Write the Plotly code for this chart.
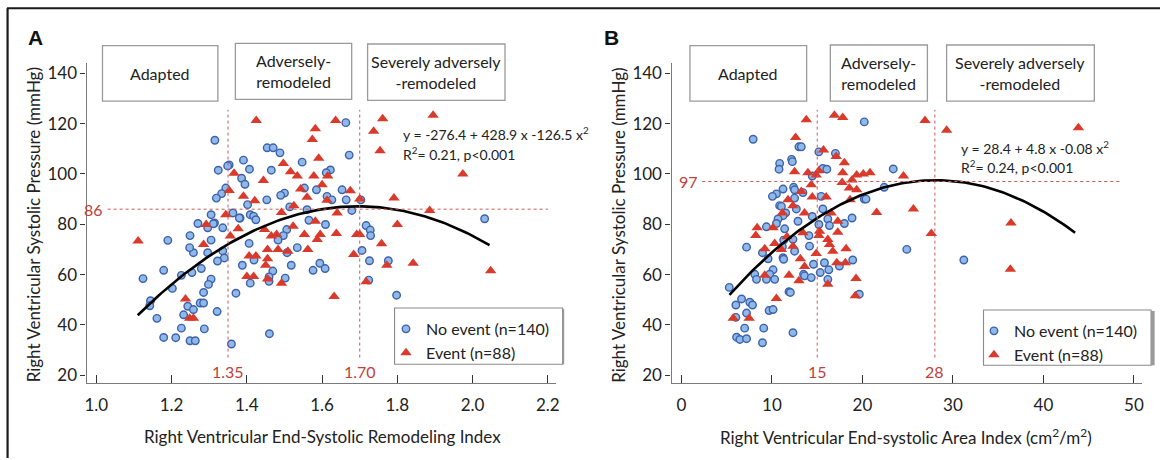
import numpy as np
import plotly.graph_objects as go

# ---------------- Panel A data (RV end-systolic remodeling index vs RVSP) ----------------
a_none_x = [1.190, 1.124, 1.179, 1.202, 1.144, 1.142, 1.161, 1.179, 1.211, 1.249, 1.263, 1.226,
            1.232, 1.243, 1.258, 1.276, 1.249, 1.258, 1.254, 1.226, 1.248, 1.270, 1.279,
            1.315, 1.663, 1.454, 1.470, 1.488, 1.672, 1.391, 1.353, 1.547, 1.324, 1.407, 1.465,
            1.622, 1.611, 1.386, 1.344, 1.333, 1.319, 1.500, 1.490, 1.553, 1.585, 1.653, 1.453,
            1.613, 1.626, 1.664, 1.703, 1.402, 1.514, 1.560, 1.679, 1.363, 1.382, 1.409, 1.418,
            1.424, 1.305, 1.314, 1.336, 1.296, 1.565, 1.609, 1.717, 1.728, 1.729, 1.506, 1.497,
            1.483, 1.406, 1.305, 1.534, 1.507, 1.336, 1.340, 1.296, 1.322, 1.419, 1.706, 1.726,
            1.776, 1.388, 1.518, 1.594, 1.608, 1.576, 1.469, 1.459, 1.502, 1.305, 1.298, 1.409,
            1.459, 1.724, 1.285, 1.285, 1.371, 1.798, 1.321, 1.287, 1.460, 1.359, 2.032,
            1.395, 1.349, 1.311, 1.380]
a_none_y = [73.6, 58.4, 61.7, 54.5, 49.6, 47.6, 42.6, 35.0, 34.9, 33.7, 33.7, 38.7,
            44.0, 47.4, 46.1, 48.7, 75.5, 68.7, 60.8, 59.7, 70.7, 80.3, 62.4,
            113.4, 120.4, 110.4, 110.4, 108.4, 107.5, 105.5, 103.6, 104.7, 101.5, 101.9, 101.5,
            101.6, 100.5, 98.3, 94.4, 92.2, 90.4, 92.4, 91.5, 94.4, 93.7, 93.7, 89.7,
            91.1, 89.7, 89.7, 89.7, 87.8, 86.9, 85.8, 85.5, 84.5, 82.5, 83.8, 83.2,
            81.8, 83.8, 80.5, 78.6, 78.6, 81.6, 79.9, 79.5, 77.7, 75.5, 77.9, 75.5,
            73.7, 72.4, 73.7, 70.7, 68.7, 69.4, 66.6, 68.7, 65.4, 65.8, 69.6, 65.5,
            65.5, 63.7, 63.7, 64.5, 62.4, 61.7, 61.4, 59.1, 58.6, 58.2, 56.1, 56.6,
            57.3, 57.8, 52.9, 48.7, 52.6, 51.8, 45.3, 38.4, 36.5, 32.4, 82.2,
            95.9, 103.2, 80.2, 82.5]
a_event_x = [1.111, 1.237, 1.248, 1.258,
             1.425, 1.636, 1.761, 1.737, 1.582, 1.574, 1.754, 1.591, 1.497, 1.366, 1.516, 1.534,
             1.444, 1.578, 1.615, 1.600, 1.353, 1.543, 1.675, 1.391, 1.421, 1.560, 1.613, 1.700,
             1.791, 1.525, 1.492, 1.344, 1.640, 1.292, 1.582, 1.800, 1.377, 1.447, 1.523, 1.356,
             1.465, 1.479, 1.553, 1.595, 1.587, 1.638, 1.692, 1.700, 1.285, 1.455, 1.483, 1.509,
             1.562, 1.758, 1.406, 1.424, 1.455, 1.684, 1.450, 1.772, 1.400, 1.418, 1.455, 1.492,
             1.717, 1.632,
             1.895, 1.974, 1.886, 2.048, 1.842]
a_event_y = [73.3, 50.3, 42.6, 42.6,
             121.3, 121.3, 122.0, 117.0, 118.0, 113.7, 109.2, 106.2, 104.2, 100.3, 100.9, 99.2,
             97.4, 99.2, 99.2, 95.7, 93.4, 94.0, 93.3, 91.1, 89.4, 90.7, 89.5, 90.0,
             90.4, 87.4, 84.7, 83.8, 84.5, 79.9, 81.2, 79.9, 78.2, 77.9, 79.2, 75.3,
             75.3, 75.9, 75.9, 75.9, 73.9, 76.3, 75.9, 75.9, 72.0, 70.0, 70.0, 69.3,
             70.0, 72.3, 67.4, 67.4, 66.3, 68.0, 63.7, 63.7, 59.2, 59.2, 58.2, 56.6,
             57.1, 51.3,
             123.3, 100.0, 85.5, 61.5, 64.5]

# ---------------- Panel B data (RV end-systolic area index vs RVSP) ----------------
b_none_x = [7.92, 20.20, 12.98, 13.24, 15.18, 17.01, 10.85, 10.78, 12.17, 12.25, 15.62, 16.06,
            23.40, 14.45, 11.22, 10.49, 10.05, 12.39, 12.50, 13.42, 12.50, 15.44, 10.85, 11.04,
            11.51, 11.22, 12.69, 15.62, 10.67, 10.49, 9.39, 11.40, 12.87, 14.45, 16.17, 15.18,
            16.35, 18.00, 18.85, 20.20, 20.39, 22.40, 7.19, 8.95, 11.29, 12.32, 11.15, 14.08,
            14.15, 11.22, 11.29, 9.57, 12.50, 14.59, 15.80, 17.45, 18.92, 16.28, 15.33, 13.49,
            13.60, 14.34, 10.12, 9.75, 9.39, 8.10, 8.29, 10.30, 16.17, 11.88, 12.03, 5.28,
            6.64, 6.01, 7.55, 7.85, 7.19, 9.68, 10.12, 19.65, 6.01, 6.98, 9.09, 12.32,
            6.09, 6.45, 7.19, 8.95, 24.90, 31.20]
b_none_y = [113.8, 120.7, 110.8, 110.8, 108.8, 108.2, 104.2, 101.9, 105.8, 104.9, 102.2, 101.9,
            102.0, 99.2, 94.0, 92.1, 91.1, 94.7, 93.7, 92.6, 90.4, 91.1, 87.4, 87.1,
            84.5, 83.4, 86.1, 86.1, 82.1, 80.3, 79.0, 78.2, 81.2, 83.1, 82.1, 79.9,
            79.5, 80.3, 82.5, 90.0, 90.0, 94.7, 70.9, 68.7, 73.7, 74.0, 71.1, 75.5,
            71.3, 66.7, 66.1, 66.3, 69.3, 64.1, 64.7, 63.4, 65.8, 61.9, 60.8, 60.1,
            59.5, 58.8, 61.9, 60.1, 58.1, 60.1, 58.1, 58.1, 58.1, 53.2, 52.9, 54.9,
            50.3, 47.9, 49.0, 47.9, 44.7, 45.7, 46.1, 52.2, 43.0, 38.7, 38.7, 36.9,
            35.1, 34.2, 34.5, 32.9, 70.0, 65.8]
b_event_x = [13.79, 16.90, 17.82, 12.61, 15.69, 17.09, 18.00, 12.50, 13.97, 15.18, 14.89, 17.82,
             19.36, 20.09, 20.83, 17.75, 14.34, 18.85, 18.55, 19.36, 13.24, 11.77, 14.45, 15.99,
             18.63, 12.32, 13.60, 11.15, 16.54, 21.56, 8.36, 8.21, 10.12, 13.42, 11.66, 17.27,
             17.27, 15.25, 15.18, 16.17, 16.35, 9.20, 10.30, 12.32, 11.04, 16.72, 18.19, 14.89,
             13.13, 17.16, 18.11, 13.60, 9.20, 11.88, 12.98, 16.17, 19.29, 19.21, 10.49, 5.72,
             7.48, 26.91, 29.30, 43.86, 24.53, 25.63, 27.61, 36.41, 36.34]
b_event_y = [121.6, 123.3, 122.4, 114.5, 109.5, 106.9, 104.5, 100.9, 100.5, 101.3, 99.6, 100.5,
             99.6, 100.0, 100.5, 96.6, 95.7, 97.6, 94.4, 93.7, 93.0, 89.7, 90.8, 90.8,
             89.7, 87.4, 84.5, 84.5, 84.5, 84.7, 78.6, 75.5, 78.6, 76.6, 75.0, 81.2,
             76.8, 77.2, 75.5, 73.9, 72.0, 70.3, 72.4, 71.3, 70.0, 69.3, 70.3, 68.4,
             66.3, 64.7, 64.7, 63.2, 59.7, 59.7, 57.5, 56.2, 58.4, 51.6, 50.5, 42.6,
             42.6, 121.3, 117.4, 118.4, 99.2, 86.1, 76.3, 80.5, 62.1]

# quadratic fits (c0, c1, c2) and the x-span they are drawn over
fit_a = [-276.4, 428.9, -126.5]
fit_a_span = [1.11, 2.045]
fit_b = [28.3, 4.93, -0.0878]
fit_b_span = [5.3, 43.5]

# cut-offs
cut_a = [1.35, 1.70]
cut_a_labels = ["1.35", "1.70"]
peak_a = 86
cut_b = [15, 28]
cut_b_labels = ["15", "28"]
peak_b = 97

eq_a = ["y = -276.4 + 428.9 x -126.5 x<sup>2</sup>", "R<sup>2</sup>= 0.21, p<0.001"]
eq_b = ["y = 28.4 + 4.8 x -0.08 x<sup>2</sup>", "R<sup>2</sup>= 0.24, p<0.001"]
groups = ["Adapted", "Adversely-<br>remodeled", "Severely adversely<br>-remodeled"]
legend_names = ["No event (n=140)", "Event (n=88)"]

# ---------------- styling ----------------
W, H = 1164, 460
FONT = "Lato, 'Open Sans', sans-serif"
BLUE_FILL, BLUE_LINE = "#90b9e8", "#3d62ad"
RED = "#d93a2b"
REF = "#c85a5a"
LABEL_RED = "#c0413b"
TXT = "#222222"


def px(x):
    return x / W


def py(y):
    return 1 - y / H


fig = go.Figure()


def curve(coefs, span):
    xs = np.linspace(span[0], span[1], 120)
    return xs, coefs[0] + coefs[1] * xs + coefs[2] * xs ** 2


for (nx, ny, ex, ey, fit, span, xa, ya, lg) in [
    (a_none_x, a_none_y, a_event_x, a_event_y, fit_a, fit_a_span, "x", "y", "legend"),
    (b_none_x, b_none_y, b_event_x, b_event_y, fit_b, fit_b_span, "x2", "y2", "legend2"),
]:
    fig.add_trace(go.Scatter(x=nx, y=ny, mode="markers", name=legend_names[0], xaxis=xa, yaxis=ya,
                             legend=lg,
                             marker=dict(symbol="circle", size=7.5, color=BLUE_FILL,
                                         line=dict(color=BLUE_LINE, width=1.4))))
    fig.add_trace(go.Scatter(x=ex, y=ey, mode="markers", name=legend_names[1], xaxis=xa, yaxis=ya,
                             legend=lg,
                             marker=dict(symbol="triangle-up", size=10, color=RED,
                                         line=dict(width=0))))
    cx, cy = curve(fit, span)
    fig.add_trace(go.Scatter(x=cx, y=cy, mode="lines", xaxis=xa, yaxis=ya, showlegend=False,
                             line=dict(color="black", width=2.6), hoverinfo="skip"))

axis_common = dict(showline=True, linecolor="#7a7a7a", linewidth=1.3, showgrid=False, zeroline=False,
                   tickcolor="#333", tickfont=dict(family=FONT, size=17, color=TXT))
xdomA = [px(85), px(557)]
xdomB = [px(673), px(1146)]
ydom = [py(385), py(62.7)]

fig.update_layout(
    width=W, height=H, margin=dict(l=0, r=0, t=0, b=0),
    paper_bgcolor="white", plot_bgcolor="white",
    font=dict(family=FONT, color=TXT),
    xaxis=dict(domain=xdomA, range=[0.974, 2.222], anchor="y", tickvals=[1.0, 1.2, 1.4, 1.6, 1.8, 2.0, 2.2],
               tickformat=".1f", ticks="inside", ticklen=8, ticklabelstandoff=6, **axis_common),
    yaxis=dict(domain=ydom, range=[16.7, 144], anchor="x", tickvals=[20, 40, 60, 80, 100, 120, 140],
               ticks="outside", ticklen=5, **axis_common),
    xaxis2=dict(domain=xdomB, range=[-1.1, 50.9], anchor="y2", tickvals=[0, 10, 20, 30, 40, 50],
                ticks="inside", ticklen=8, ticklabelstandoff=6, **axis_common),
    yaxis2=dict(domain=ydom, range=[16.7, 144], anchor="x2", tickvals=[20, 40, 60, 80, 100, 120, 140],
                ticks="outside", ticklen=5, **axis_common),
    legend=dict(x=px(386), y=py(313), xanchor="left", yanchor="top", bgcolor="rgba(0,0,0,0)",
                borderwidth=0, font=dict(family=FONT, size=16, color=TXT), tracegroupgap=0),
    legend2=dict(x=px(977), y=py(315), xanchor="left", yanchor="top", bgcolor="rgba(0,0,0,0)",
                 borderwidth=0, font=dict(family=FONT, size=16, color=TXT), tracegroupgap=0),
)

shapes = []
annotations = []


def note(x, y, text, size, color=TXT, xanchor="center", yanchor="middle", xref="paper", yref="paper",
         family=FONT, **kw):
    annotations.append(dict(xref=xref, yref=yref, x=x, y=y, text=text, showarrow=False,
                            xanchor=xanchor, yanchor=yanchor,
                            font=dict(family=family, size=size, color=color), **kw))


# outer frame (top & left)
shapes.append(dict(type="line", xref="paper", yref="paper", x0=px(5), x1=1, y0=py(7.3), y1=py(7.3),
                   line=dict(color="#1a1a1a", width=2)))
shapes.append(dict(type="line", xref="paper", yref="paper", x0=px(5.6), x1=px(5.6), y0=py(7.3), y1=0,
                   line=dict(color="#1a1a1a", width=2.2)))

# group boxes
boxesA = [(101, 45, 217, 100.7), (234.6, 42.7, 351.5, 99), (367.5, 43.3, 505.6, 100)]
boxesB = [(691.5, 45, 808.8, 100.7), (832.6, 44.3, 930.2, 100.7), (949.5, 44.3, 1098, 100.7)]
for boxes in (boxesA, boxesB):
    for (x0, y0, x1, y1), label in zip(boxes, groups):
        shapes.append(dict(type="rect", xref="paper", yref="paper", x0=px(x0), x1=px(x1),
                           y0=py(y1), y1=py(y0), line=dict(color="#9a9a9a", width=1.3),
                           fillcolor="white", layer="above"))
        note(px((x0 + x1) / 2), py((y0 + y1) / 2), label, 16, align="center")

# legend boxes
for (x0, y0, x1, y1, shadow) in [(394.6, 309, 563.5, 365.7, 1.6), (986.6, 311, 1155, 366.7, 3.6)]:
    shapes.append(dict(type="rect", xref="paper", yref="paper", x0=px(x0), x1=px(x1),
                       y0=py(y1), y1=py(y0), line=dict(color="#8a8a8a", width=1.1)))
    shapes.append(dict(type="line", xref="paper", yref="paper", x0=px(x1 + shadow / 2), x1=px(x1 + shadow / 2),
                       y0=py(y1), y1=py(y0 + 1), line=dict(color="#9a9a9a", width=shadow)))

# reference (cut-off) lines
for xa, ya, cuts, peak, hx in [("x", "y", cut_a, peak_a, (1.03, 2.20)),
                               ("x2", "y2", cut_b, peak_b, (2.3, 48.7))]:
    for c in cuts:
        shapes.append(dict(type="line", xref=xa, yref=ya, x0=c, x1=c, y0=27, y1=125.5,
                           line=dict(color=REF, width=1, dash="dot")))
    shapes.append(dict(type="line", xref=xa, yref=ya, x0=hx[0], x1=hx[1], y0=peak, y1=peak,
                       line=dict(color=REF, width=1, dash="dot")))

# cut-off labels
for xa, cuts, labels in [("x", cut_a, cut_a_labels), ("x2", cut_b, cut_b_labels)]:
    for c, t in zip(cuts, labels):
        note(c, py(373), t, 16, color=LABEL_RED, xref=xa)
note(px(104), peak_a, str(peak_a), 16, color=LABEL_RED, xanchor="right", yref="y")
note(px(702), peak_b, str(peak_b), 16, color=LABEL_RED, xanchor="right", yref="y2")

# equations
for (x0, y1, y2), eq in [((401, 133.3, 153.8), eq_a), ((962, 147.3, 166.5), eq_b)]:
    note(px(x0), py(y1), eq[0], 14, xanchor="left")
    note(px(x0), py(y2), eq[1], 14, xanchor="left")

# panel letters
for x0, t in [(33.4, "A"), (612.4, "B")]:
    note(px(x0), py(37), "<b>%s</b>" % t, 21, color="#111", family="Liberation Sans, Arial, sans-serif")

# axis titles
ytitle = "Right Ventricular Systolic Pressure (mmHg)"
for x0 in (31.5, 619):
    note(px(x0), py(225.5), ytitle, 17, textangle=-90)
note(px(322), py(438), "Right Ventricular End-Systolic Remodeling Index", 17)
note(px(909), py(438), "Right Ventricular End-systolic Area Index (cm<sup>2</sup>/m<sup>2</sup>)", 17)

fig.update_layout(shapes=shapes, annotations=annotations)
fig.write_html("out.html")
